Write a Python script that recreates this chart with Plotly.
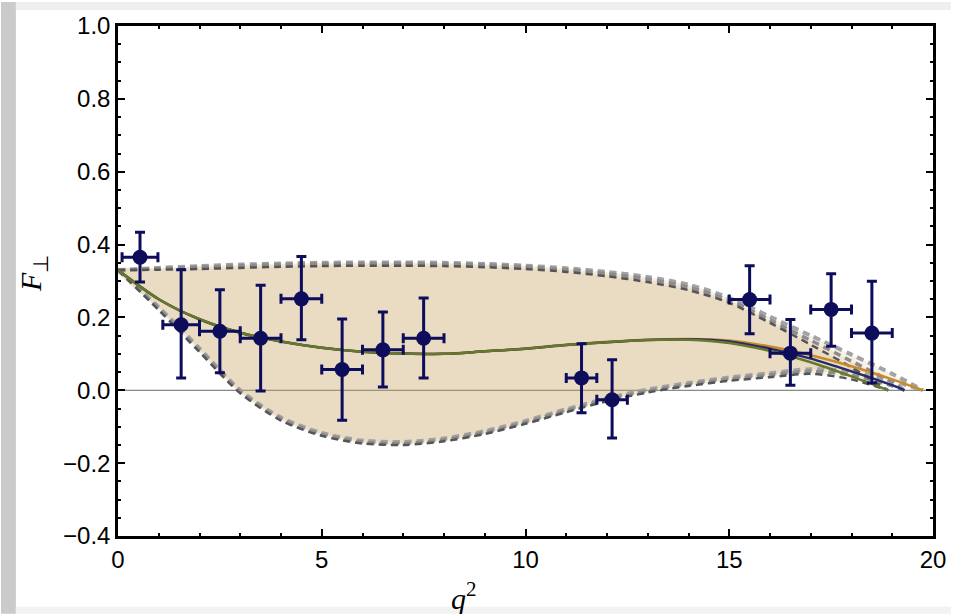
import plotly.graph_objects as go

# ---------------- data ----------------
# experimental points (bin edges, central values, error-bar ends)
q_lo = [0.1, 1.1, 2.0, 3.0, 4.0, 5.0, 6.0, 7.0, 11.0, 11.75, 15.0, 16.0, 17.0, 18.0]
q_hi = [0.98, 2.0, 3.0, 4.0, 5.0, 6.0, 7.0, 8.0, 11.75, 12.5, 16.0, 17.0, 18.0, 19.0]
F_val = [0.365, 0.180, 0.162, 0.143, 0.251, 0.057, 0.111, 0.143, 0.034, -0.026, 0.249, 0.102, 0.222, 0.157]
F_top = [0.434, 0.331, 0.276, 0.288, 0.367, 0.196, 0.215, 0.253, 0.128, 0.084, 0.342, 0.194, 0.320, 0.299]
F_bot = [0.297, 0.034, 0.048, -0.002, 0.139, -0.082, 0.009, 0.034, -0.062, -0.131, 0.155, 0.014, 0.121, 0.020]

# theory curves (three models): q grid, central, upper and lower bounds
q_green = [0, 1, 2, 3, 4, 5, 6, 7, 8, 9, 10, 11, 12, 13, 14, 15, 16, 17, 18, 18.9]
c_green = [0.330, 0.250, 0.195, 0.158, 0.134, 0.117, 0.106, 0.101, 0.100, 0.107, 0.114, 0.124, 0.132, 0.138, 0.139, 0.130, 0.108, 0.077, 0.038, 0.0]
u_green = [0.330, 0.331, 0.333, 0.336, 0.339, 0.341, 0.342, 0.342, 0.341, 0.338, 0.333, 0.325, 0.313, 0.297, 0.275, 0.240, 0.185, 0.125, 0.063, 0.0]
l_green = [0.330, 0.220, 0.105, -0.008, -0.083, -0.125, -0.146, -0.150, -0.140, -0.120, -0.092, -0.060, -0.030, -0.006, 0.012, 0.026, 0.036, 0.045, 0.030, 0.0]

q_navy = [0, 1, 2, 3, 4, 5, 6, 7, 8, 9, 10, 11, 12, 13, 14, 15, 16, 17, 18, 19, 19.3]
c_navy = [0.330, 0.250, 0.195, 0.158, 0.134, 0.117, 0.106, 0.101, 0.100, 0.107, 0.114, 0.124, 0.132, 0.138, 0.140, 0.134, 0.114, 0.087, 0.052, 0.014, 0.0]
u_navy = [0.330, 0.334, 0.338, 0.342, 0.345, 0.347, 0.348, 0.348, 0.347, 0.344, 0.339, 0.331, 0.320, 0.305, 0.283, 0.247, 0.192, 0.137, 0.080, 0.022, 0.0]
l_navy = [0.330, 0.224, 0.110, -0.004, -0.079, -0.121, -0.142, -0.146, -0.136, -0.116, -0.088, -0.056, -0.026, -0.002, 0.016, 0.031, 0.042, 0.052, 0.042, 0.012, 0.0]

q_orange = [0, 1, 2, 3, 4, 5, 6, 7, 8, 9, 10, 11, 12, 13, 14, 15, 16, 17, 18, 19, 19.75]
c_orange = [0.330, 0.250, 0.195, 0.158, 0.134, 0.117, 0.106, 0.101, 0.100, 0.107, 0.115, 0.125, 0.133, 0.139, 0.141, 0.137, 0.120, 0.096, 0.066, 0.030, 0.0]
u_orange = [0.330, 0.336, 0.341, 0.345, 0.348, 0.350, 0.351, 0.351, 0.350, 0.347, 0.342, 0.335, 0.325, 0.311, 0.290, 0.254, 0.202, 0.150, 0.098, 0.045, 0.0]
l_orange = [0.330, 0.228, 0.115, 0.000, -0.075, -0.117, -0.138, -0.142, -0.132, -0.112, -0.084, -0.052, -0.022, 0.002, 0.020, 0.035, 0.047, 0.058, 0.052, 0.026, 0.0]

x_ticks = [0, 5, 10, 15, 20]
y_ticks = [-0.4, -0.2, 0.0, 0.2, 0.4, 0.6, 0.8, 1.0]

# ---------------- figure ----------------
fig = go.Figure()

models = [
    (q_orange, c_orange, u_orange, l_orange, "#c98a2c", "#a3a3a3", 4),
    (q_navy, c_navy, u_navy, l_navy, "#262a6e", "#8c8c8c", 3.5),
    (q_green, c_green, u_green, l_green, "#66782c", "#555555", 2.5),
]

# bands
for q, c, u, l, col, dcol, dw in models:
    fig.add_trace(go.Scatter(
        x=list(q) + list(q)[::-1], y=list(u) + list(l)[::-1],
        fill="toself", fillcolor="rgba(200,160,100,0.15)",
        line=dict(width=0, shape="spline", smoothing=0.8),
        mode="lines", hoverinfo="skip", showlegend=False))

# dashed bounds
for q, c, u, l, col, dcol, dw in models:
    for b in (u, l):
        fig.add_trace(go.Scatter(
            x=q, y=b, mode="lines",
            line=dict(color=dcol, width=dw, dash="7px,5px", shape="spline", smoothing=0.8),
            hoverinfo="skip", showlegend=False))

# central curves
for q, c, u, l, col, dcol, dw in models:
    fig.add_trace(go.Scatter(
        x=q, y=c, mode="lines",
        line=dict(color=col, width=2.5, shape="spline", smoothing=0.8),
        showlegend=False))

# data points
q_mid = [(a + b) / 2 for a, b in zip(q_lo, q_hi)]
fig.add_trace(go.Scatter(
    x=q_mid, y=F_val, mode="markers",
    marker=dict(color="#0d0d5c", size=15),
    error_y=dict(type="data", symmetric=False,
                 array=[t - v for t, v in zip(F_top, F_val)],
                 arrayminus=[v - b for v, b in zip(F_val, F_bot)],
                 color="#0d0d5c", thickness=3, width=5),
    error_x=dict(type="data", symmetric=False,
                 array=[h - m for h, m in zip(q_hi, q_mid)],
                 arrayminus=[m - lo for m, lo in zip(q_mid, q_lo)],
                 color="#0d0d5c", thickness=3, width=5),
    showlegend=False))

# page decorations (grey strips around the picture)
shapes = [
    dict(type="rect", xref="paper", yref="paper", x0=-0.1436, x1=-0.1253, y0=-0.1523, y1=1.0469,
         fillcolor="#cbcbcb", line=dict(width=0)),
    dict(type="rect", xref="paper", yref="paper", x0=-0.1253, x1=1.0219, y0=1.03125, y1=1.0469,
         fillcolor="#efefef", line=dict(width=0)),
    dict(type="rect", xref="paper", yref="paper", x0=-0.1253, x1=1.0219, y0=-0.1523, y1=-0.1387,
         fillcolor="#f2f2f2", line=dict(width=0)),
    dict(type="line", xref="x", yref="y", x0=0, x1=20, y0=0, y1=0,
         line=dict(color="#6a6a6a", width=1), layer="below"),
]

axis_common = dict(
    showline=True, linecolor="black", linewidth=2.5, mirror="allticks",
    ticks="inside", ticklen=7, tickwidth=2, tickcolor="black",
    showgrid=False, zeroline=False,
    tickfont=dict(family="Liberation Sans, Arial", size=24, color="black"),
)

fig.update_layout(
    width=958, height=614,
    margin=dict(l=118, r=18, t=24, b=78),
    paper_bgcolor="white", plot_bgcolor="white",
    shapes=shapes,
    xaxis=dict(range=[0, 20], tickvals=x_ticks, ticktext=[str(v) for v in x_ticks],
               minor=dict(ticks="inside", dtick=1, ticklen=3.5, tickwidth=1.5, tickcolor="black"),
               **axis_common),
    yaxis=dict(range=[-0.4, 1.0], tickvals=y_ticks, tickformat=".1f",
               minor=dict(ticks="inside", dtick=0.05, ticklen=3.5, tickwidth=1.5, tickcolor="black"),
               **axis_common),
    annotations=[
        dict(text="<i>q</i><sup>2</sup>", xref="paper", yref="paper", x=0.4246, y=-0.1172,
             xanchor="center", yanchor="middle",
             showarrow=False, font=dict(family="Liberation Serif, Times New Roman", size=30, color="black")),
        dict(text="<i>F</i><sub>⊥</sub>", xref="paper", yref="paper", x=-0.1034, y=0.515,
             xanchor="center", yanchor="middle",
             textangle=-90, showarrow=False,
             font=dict(family="Liberation Serif, Times New Roman", size=30, color="black")),
    ],
)

fig.write_html("out.html", post_script="document.body.style.margin='0';",
               config={"displayModeBar": False})
